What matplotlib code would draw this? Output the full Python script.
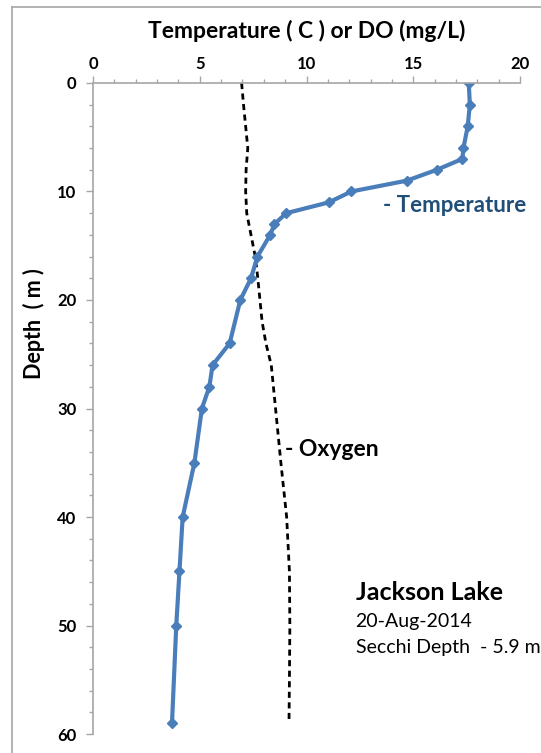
import numpy as np
import matplotlib.pyplot as plt
from matplotlib.lines import Line2D
from matplotlib.ticker import MultipleLocator

plt.rcParams['font.family'] = ['Lato', 'DejaVu Sans']

# temperature profile (deg C) with depth (m)
temp_depth = [0, 2, 4, 6, 7, 8, 9, 10, 11, 12, 13, 14, 16, 18, 20, 24, 26, 28, 30, 35, 40, 45, 50, 59]
temp_vals = [17.6, 17.65, 17.55, 17.35, 17.3, 16.1, 14.7, 12.1, 11.05, 9.05, 8.5, 8.3,
             7.7, 7.4, 6.9, 6.4, 5.6, 5.45, 5.1, 4.75, 4.2, 4.05, 3.9, 3.7]

# dissolved oxygen (mg/L) with depth (m)
do_depth = [0, 2, 4, 6, 8, 10, 12, 14, 16, 18, 20, 22, 24, 26, 28, 30, 35, 40, 45, 50, 55, 59]
do_vals = [6.96, 7.05, 7.15, 7.25, 7.17, 7.15, 7.2, 7.4, 7.6, 7.72, 7.82, 7.92,
           8.1, 8.35, 8.45, 8.55, 8.8, 9.07, 9.2, 9.22, 9.2, 9.18]

fig = plt.figure(figsize=(5.41, 7.53), dpi=100)
ax = fig.add_axes([0.1719, 0.0252, 0.7893, 0.8646])

ax.plot(do_vals, do_depth, color='black', lw=2, ls=(0, (2.2, 1.6)))
ax.plot(temp_vals, temp_depth, color='#4A7EBB', lw=3, marker='D', ms=5.5,
        markerfacecolor='#4A7EBB', markeredgecolor='#4A7EBB')

ax.set_xlim(0, 20)
ax.set_ylim(60, 0)
ax.xaxis.tick_top()
ax.xaxis.set_label_position('top')
ax.xaxis.set_major_locator(MultipleLocator(5))
ax.xaxis.set_minor_locator(MultipleLocator(1))
ax.yaxis.set_major_locator(MultipleLocator(10))
ax.yaxis.set_minor_locator(MultipleLocator(2))

for s in ['right', 'bottom']:
    ax.spines[s].set_visible(False)
for s in ['left', 'top']:
    ax.spines[s].set_color('#A6A6A6')
    ax.spines[s].set_linewidth(1.2)

ax.tick_params(which='both', color='#A6A6A6', width=1, direction='out')
ax.tick_params(which='major', length=5)
ax.tick_params(which='minor', length=3)
ax.tick_params(axis='x', which='major', pad=3)
ax.tick_params(axis='y', which='major', pad=7)
for lab in ax.get_xticklabels() + ax.get_yticklabels():
    lab.set_fontweight('bold')
    lab.set_fontsize(12)

ax.set_xlabel('Temperature ( C ) or DO (mg/L)', fontsize=16.5, fontweight='bold', labelpad=13)
ax.set_ylabel('Depth  ( m )', fontsize=15.5, fontweight='bold')
ax.yaxis.set_label_coords(-0.113, 0.63)

ax.text(13.6, 11.3, '- Temperature', color='#1F4E79', fontsize=16, fontweight='bold', va='center')
ax.text(9.0, 33.8, '- Oxygen', color='black', fontsize=16.5, fontweight='bold', va='center')
ax.text(12.3, 47.0, 'Jackson Lake', fontsize=18, fontweight='bold', va='center')
ax.text(12.3, 49.6, '20-Aug-2014', fontsize=14, va='center')
ax.text(12.3, 52.0, 'Secchi Depth  - 5.9 m', fontsize=14, va='center', clip_on=False)

fig.add_artist(Line2D([12 / 541, 12 / 541], [0, 1 - 7 / 753], color='#A6A6A6', lw=1.2))
fig.add_artist(Line2D([12 / 541, 1], [1 - 7 / 753, 1 - 7 / 753], color='#A6A6A6', lw=1.2))

fig.savefig('out.png', dpi=100)
